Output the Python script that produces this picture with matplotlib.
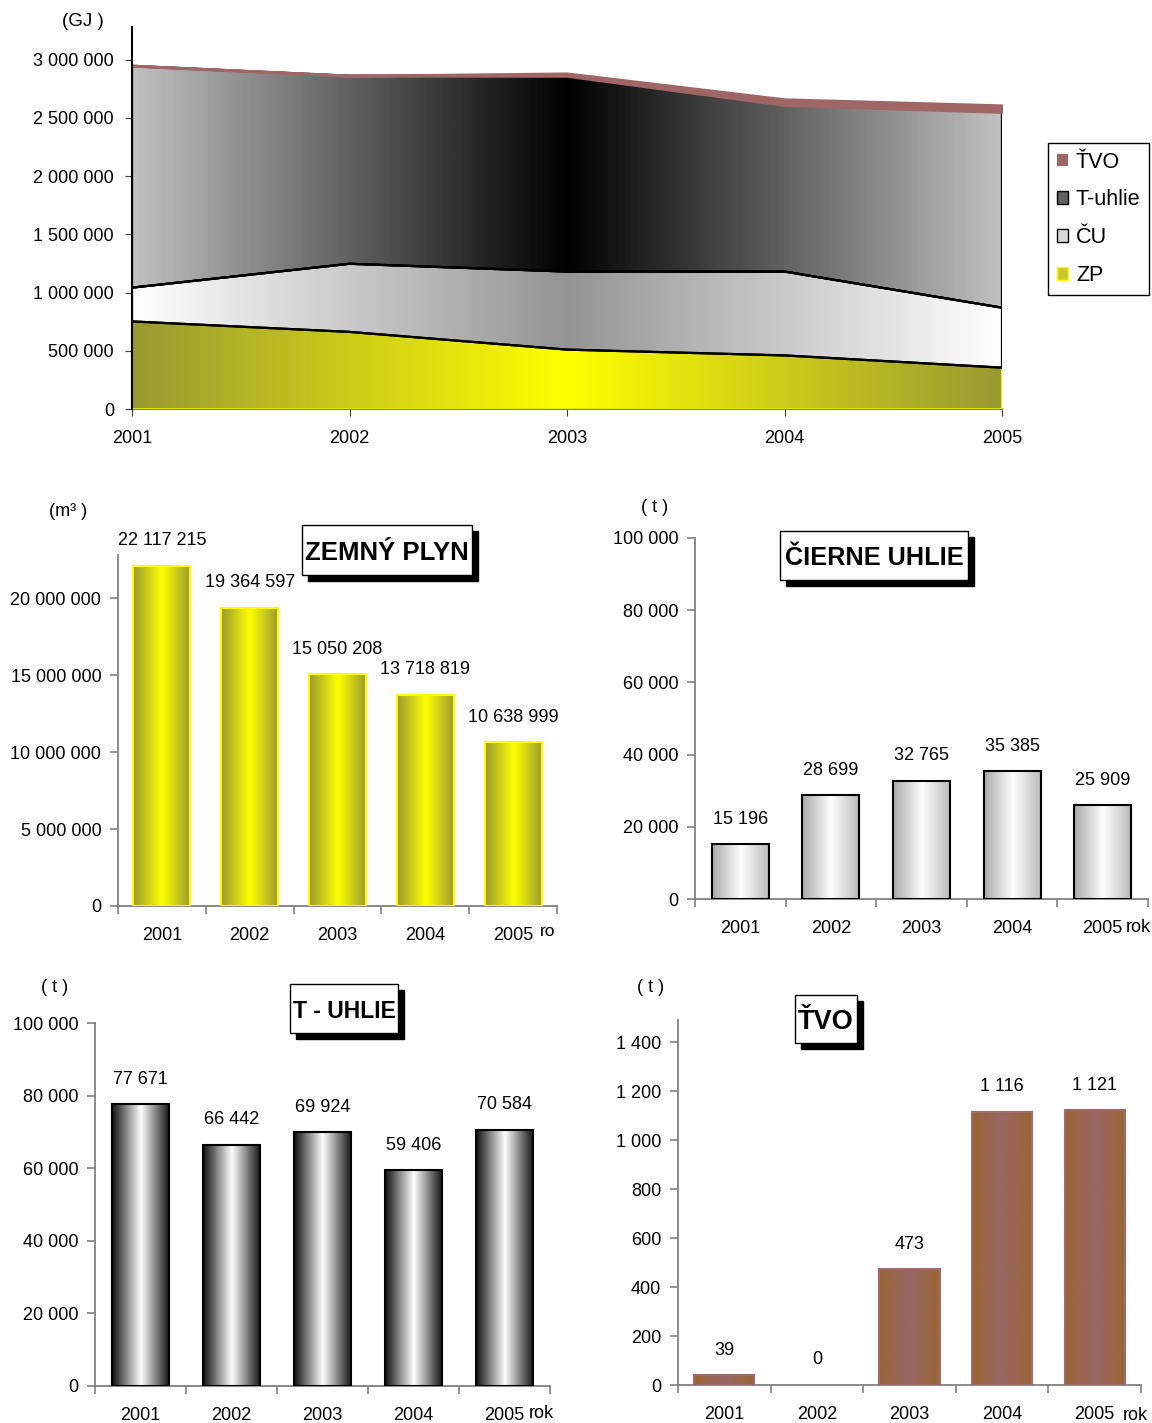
import numpy as np
import matplotlib
matplotlib.use('Agg')
import matplotlib.pyplot as plt
from matplotlib.colors import LinearSegmentedColormap
from matplotlib.patches import Rectangle, Patch

plt.rcParams['font.family'] = ['Liberation Sans', 'DejaVu Sans']

# data
years = ['2001', '2002', '2003', '2004', '2005']
year_nums = [2001, 2002, 2003, 2004, 2005]

# energie v GJ (odcitane z plochového grafu)
zp_gj = [752000, 662000, 510000, 460000, 355000]
cu_gj = [290000, 585000, 670000, 720000, 515000]
tu_gj = [1905000, 1615000, 1680000, 1430000, 1680000]
tvo_gj = [1500, 0, 22000, 50000, 58000]

# spotreba paliv
zp_m3 = [22117215, 19364597, 15050208, 13718819, 10638999]
cu_t = [15196, 28699, 32765, 35385, 25909]
tu_t = [77671, 66442, 69924, 59406, 70584]
tvo_t = [39, 0, 473, 1116, 1121]

W, H = 1152, 1423
fig = plt.figure(figsize=(W / 100, H / 100), dpi=100)


def px_axes(x0, y0, x1, y1):
    return fig.add_axes([x0 / W, 1 - y1 / H, (x1 - x0) / W, (y1 - y0) / H])


def fmt(v):
    return f'{int(v):,}'.replace(',', ' ')


def cmap3(c1, c2, c3):
    return LinearSegmentedColormap.from_list('g', [c1, c2, c3])


grad = np.linspace(0, 1, 256)[np.newaxis, :]

# ---------------- plosny graf (GJ) ----------------
ax = px_axes(132, 27, 1002, 409)
ytop = 3.28e6
polys = ax.stackplot(year_nums, zp_gj, cu_gj, tu_gj, tvo_gj,
                     colors=['none'] * 4, zorder=3)
area_cmaps = [cmap3('#999933', '#ffff00', '#999933'),
              cmap3('#ffffff', '#949494', '#ffffff'),
              cmap3('#c0c0c0', '#000000', '#c0c0c0'),
              cmap3('#a06666', '#a06666', '#a06666')]
edges = ['#000000', '#000000', '#000000', '#a06666']
for poly, cm, ec in zip(polys, area_cmaps, edges):
    im = ax.imshow(grad, extent=[2001, 2005, 0, ytop], aspect='auto', cmap=cm,
                   zorder=1, interpolation='bicubic')
    im.set_clip_path(poly.get_paths()[0], transform=ax.transData)
    poly.set_edgecolor(ec)
    poly.set_linewidth(1.6)
polys[0].set_edgecolor('#ffff00')
polys[0].set_linewidth(1.2)
polys[3].set_facecolor('#a06666')
polys[3].set_linewidth(2)
# hranice medzi vrstvami
ax.plot(year_nums, np.array(zp_gj), color='black', lw=1.6, zorder=4)
ax.plot(year_nums, np.array(zp_gj) + np.array(cu_gj), color='black', lw=1.6, zorder=4)
ax.set_xlim(2001, 2005)
ax.set_ylim(0, ytop)
ax.set_xticks(year_nums, years)
ax.set_yticks(np.arange(0, 3000001, 500000))
ax.set_yticklabels([fmt(v) for v in np.arange(0, 3000001, 500000)])
ax.tick_params(axis='both', labelsize=13, length=5, color='#404040')
ax.tick_params(axis='x', pad=10)
ax.tick_params(axis='y', pad=8)
for s in ['top', 'right']:
    ax.spines[s].set_visible(False)
ax.spines['left'].set_color('black')
ax.spines['left'].set_linewidth(1.5)
ax.spines['bottom'].set_color('#606060')
ax.spines['bottom'].set_linewidth(1.2)
ax.spines['left'].set_zorder(5)

handles = [Patch(facecolor='#a06666', edgecolor='none'),
           Patch(facecolor='#606060', edgecolor='black'),
           Patch(facecolor='#d8d8d8', edgecolor='black'),
           Patch(facecolor='#c8c830', edgecolor='#ffff00')]
leg = fig.legend(handles, ['ŤVO', 'T-uhlie', 'ČU', 'ZP'], loc='upper left',
                 bbox_to_anchor=(1048 / W, 1 - 143 / H), bbox_transform=fig.transFigure,
                 fontsize=15.5, fancybox=False, framealpha=1, edgecolor='black',
                 handlelength=0.55, handleheight=0.55, handletextpad=0.35,
                 labelspacing=0.78, borderpad=0.4, borderaxespad=0)
leg.get_frame().set_linewidth(1)
fig.text(83 / W, 1 - 22 / H, '(GJ )', ha='center', va='center', fontsize=13.5)


# ---------------- stlpcove grafy ----------------
def bar_chart(box, values, ytop, yticks, cm, edge, width):
    ax = px_axes(*box)
    x = np.arange(len(years))
    bars = ax.bar(x, values, width=width, facecolor='none', edgecolor=edge,
                  linewidth=1.5, zorder=3)
    for b, v in zip(bars, values):
        if v > 0:
            ax.imshow(grad, extent=[b.get_x(), b.get_x() + b.get_width(), 0, v],
                      aspect='auto', cmap=cm, zorder=2, interpolation='bicubic')
        else:
            b.set_linewidth(0)
        ax.annotate(fmt(v), (b.get_x() + b.get_width() / 2, v), xytext=(0, 18),
                    textcoords='offset points', ha='center', va='center', fontsize=13)
    ax.set_xlim(-0.5, len(years) - 0.5)
    ax.set_ylim(0, ytop)
    ax.set_xticks(x, years)
    ax.set_xticks(np.arange(-0.5, len(years), 1), minor=True)
    ax.set_yticks(yticks)
    ax.set_yticklabels([fmt(v) for v in yticks])
    ax.tick_params(axis='x', which='major', length=0, pad=15, labelsize=13)
    ax.tick_params(axis='x', which='minor', length=6, width=1.2, color='#808080')
    ax.tick_params(axis='y', length=6, width=1.2, color='#808080', pad=6, labelsize=13)
    for s in ['top', 'right']:
        ax.spines[s].set_visible(False)
    for s in ['left', 'bottom']:
        ax.spines[s].set_color('#808080')
        ax.spines[s].set_linewidth(1.3)
    return ax


def title_box(x0, y0, x1, y1, text, size):
    w, h = (x1 - x0) / W, (y1 - y0) / H
    fig.add_artist(Rectangle(((x0 + 6) / W, 1 - (y1 + 6) / H), w, h,
                             transform=fig.transFigure, facecolor='black',
                             edgecolor='black', zorder=5))
    fig.add_artist(Rectangle((x0 / W, 1 - y1 / H), w, h, transform=fig.transFigure,
                             facecolor='white', edgecolor='black', lw=1, zorder=6))
    fig.text((x0 + x1) / 2 / W, 1 - (y0 + y1) / 2 / H, text, ha='center',
             va='center_baseline', fontsize=size, fontweight='bold', zorder=7)


# zemny plyn
bar_chart((118, 555, 557, 906), zp_m3, 22.8e6, np.arange(0, 20000001, 5000000),
          cmap3('#999933', '#ffff00', '#999933'), '#ffff00', 0.65)
title_box(302, 525, 472, 575, 'ZEMNÝ PLYN', 18.5)
fig.text(68 / W, 1 - 512 / H, '(m³ )', ha='center', va='center', fontsize=13)
fig.text(540 / W, 1 - 931 / H, 'ro', ha='left', va='center', fontsize=12.5)

# cierne uhlie
bar_chart((695, 538, 1148, 899), cu_t, 100000, np.arange(0, 100001, 20000),
          cmap3('#a8a8a8', '#ffffff', '#b8b8b8'), 'black', 0.63)
title_box(780, 531, 968, 580, 'ČIERNE UHLIE', 18.2)
fig.text(655 / W, 1 - 508 / H, '( t )', ha='center', va='center', fontsize=13)
fig.text(1126 / W, 1 - 927 / H, 'rok', ha='left', va='center', fontsize=13)

# tazke uhlie
bar_chart((95, 1023, 550, 1386), tu_t, 100000, np.arange(0, 100001, 20000),
          cmap3('#101010', '#ffffff', '#101010'), 'black', 0.63)
title_box(290, 984, 398, 1033, 'T - UHLIE', 16.5)
fig.text(55 / W, 1 - 988 / H, '( t )', ha='center', va='center', fontsize=13)
fig.text(529 / W, 1 - 1414 / H, 'rok', ha='left', va='center', fontsize=13)

# TVO
bar_chart((678, 1020, 1141, 1385), tvo_t, 1490, np.arange(0, 1401, 200),
          cmap3('#996633', '#996666', '#996633'), '#a06a6a', 0.65)
title_box(795, 995, 857, 1043, 'ŤVO', 19.5)
fig.text(651 / W, 1 - 988 / H, '( t )', ha='center', va='center', fontsize=13)
fig.text(1123 / W, 1 - 1416 / H, 'rok', ha='left', va='center', fontsize=13)

fig.savefig('out.png', dpi=100)
